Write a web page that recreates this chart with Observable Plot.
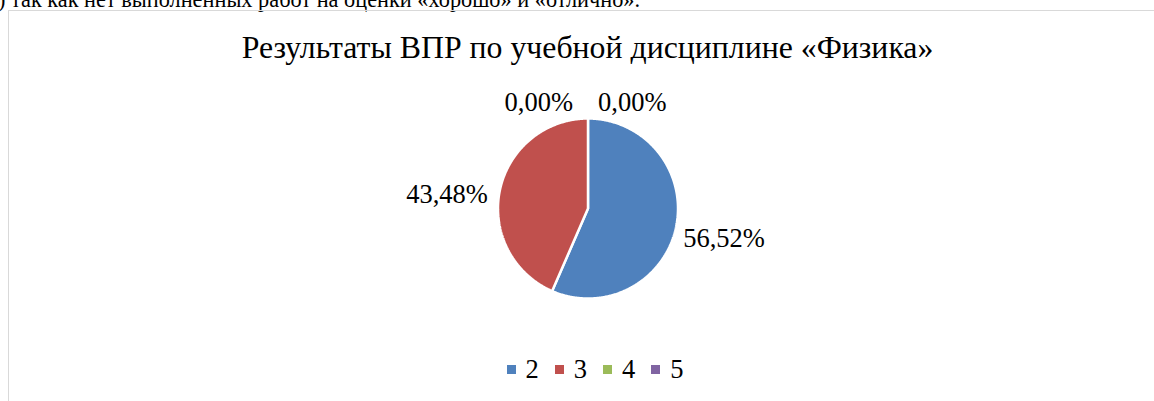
<!DOCTYPE html>
<html>
<head>
<meta charset="utf-8">
<script src="https://cdn.jsdelivr.net/npm/d3@7"></script>
<script src="https://cdn.jsdelivr.net/npm/@observablehq/plot@0.6"></script>
<style>
  html, body { margin: 0; padding: 0; background: #fff; }
  #wrap { position: relative; width: 1154px; height: 401px; overflow: hidden; background: #fff;
          font-family: "Liberation Serif", "Times New Roman", serif; color: #000; }
  #toptext { position: absolute; left: -2px; top: -13px; font-size: 22.3px; line-height: 25px; white-space: nowrap; }
  #frame { position: absolute; left: 8px; top: 10px; width: 1200px; height: 500px;
           border-left: 1.5px solid #d9d9d9; border-top: 1.5px solid #d9d9d9; }
  #title { position: absolute; left: 0; width: 1175px; top: 30px; text-align: center; font-size: 31.8px; line-height: 36px; white-space: nowrap; }
  #chart { position: absolute; left: 0; top: 0; }
  #legend { position: absolute; left: 0; width: 1190px; top: 354px; display: flex; justify-content: center;
            font-size: 26.5px; line-height: 30px; }
  .item { display: flex; align-items: center; margin: 0 8px; }
  .sw { width: 9px; height: 9px; margin-right: 10px; }
</style>
</head>
<body>
<div id="wrap">
  <div id="toptext"></div>
  <div id="frame"></div>
  <div id="title"></div>
  <div id="chart"></div>
  <div id="legend"></div>
</div>
<script>
const topText = ") так как нет выполненных работ на оценки «хорошо» и «отлично».";
const title = "Результаты ВПР по учебной дисциплине «Физика»";
const categories = ["2", "3", "4", "5"];
const shares = [56.52, 43.48, 0, 0];
const colors = ["#4f81bd", "#c0504d", "#9bbb59", "#8064a2"];

document.getElementById("toptext").textContent = topText;
document.getElementById("title").textContent = title;

const fmt = v => v.toFixed(2).replace(".", ",") + "%";
const arcs = d3.pie().sort(null).value(d => d)(shares).map((a, i) => ({
  cat: categories[i], value: shares[i], label: fmt(shares[i]),
  start: a.startAngle, end: a.endAngle, mid: (a.startAngle + a.endAngle) / 2, i
}));

// polygon vertices of each slice, in unit-circle coordinates
const pts = [];
for (const a of arcs) {
  if (a.value <= 0) continue;
  pts.push({cat: a.cat, x: 0, y: 0});
  const n = Math.max(2, Math.ceil((a.end - a.start) / (Math.PI / 360)));
  for (let k = 0; k <= n; k++) {
    const t = a.start + (a.end - a.start) * k / n;
    pts.push({cat: a.cat, x: Math.sin(t), y: Math.cos(t)});
  }
  pts.push({cat: a.cat, x: 0, y: 0});
}

const R = 1.08;
const up = arcs.filter(a => Math.cos(a.mid) > 0.9);
const others = arcs.filter(a => Math.cos(a.mid) <= 0.9);
const cx = 587.5, cy = 208, r = 90;

const chart = Plot.plot({
  width: 1154, height: 401, margin: 0,
  style: {background: "transparent", fontFamily: "Liberation Serif, serif", fontSize: "26.5px", color: "#000"},
  x: {domain: [-1, 1], range: [cx - r, cx + r], axis: null},
  y: {domain: [-1, 1], range: [cy + r, cy - r], axis: null},
  color: {domain: categories, range: colors},
  marks: [
    Plot.line(pts, {x: "x", y: "y", z: "cat", fill: "cat", stroke: "white", strokeWidth: 2.5, strokeLinejoin: "miter"}),
    Plot.text(others.filter(a => Math.sin(a.mid) >= 0), {x: a => R * Math.sin(a.mid), y: a => R * Math.cos(a.mid), text: "label", textAnchor: "start", lineAnchor: "top", fill: "black"}),
    Plot.text(others.filter(a => Math.sin(a.mid) < 0), {x: a => R * Math.sin(a.mid), y: a => R * Math.cos(a.mid), text: "label", textAnchor: "end", lineAnchor: "top", dx: -5, dy: -5, fill: "black"}),
    Plot.text(up.filter((a, j) => j % 2 === 0), {x: a => R * Math.sin(a.mid), y: a => R * Math.cos(a.mid), text: "label", textAnchor: "end", lineAnchor: "bottom", dx: -15, dy: 0, fill: "black"}),
    Plot.text(up.filter((a, j) => j % 2 === 1), {x: a => R * Math.sin(a.mid), y: a => R * Math.cos(a.mid), text: "label", textAnchor: "start", lineAnchor: "bottom", dx: 10, dy: 0, fill: "black"})
  ]
});
document.getElementById("chart").appendChild(chart);

const leg = document.getElementById("legend");
categories.forEach((c, i) => {
  const it = document.createElement("div");
  it.className = "item";
  const sw = document.createElement("span");
  sw.className = "sw";
  sw.style.background = colors[i];
  const tx = document.createElement("span");
  tx.textContent = c;
  it.appendChild(sw); it.appendChild(tx);
  leg.appendChild(it);
});
</script>
</body>
</html>
